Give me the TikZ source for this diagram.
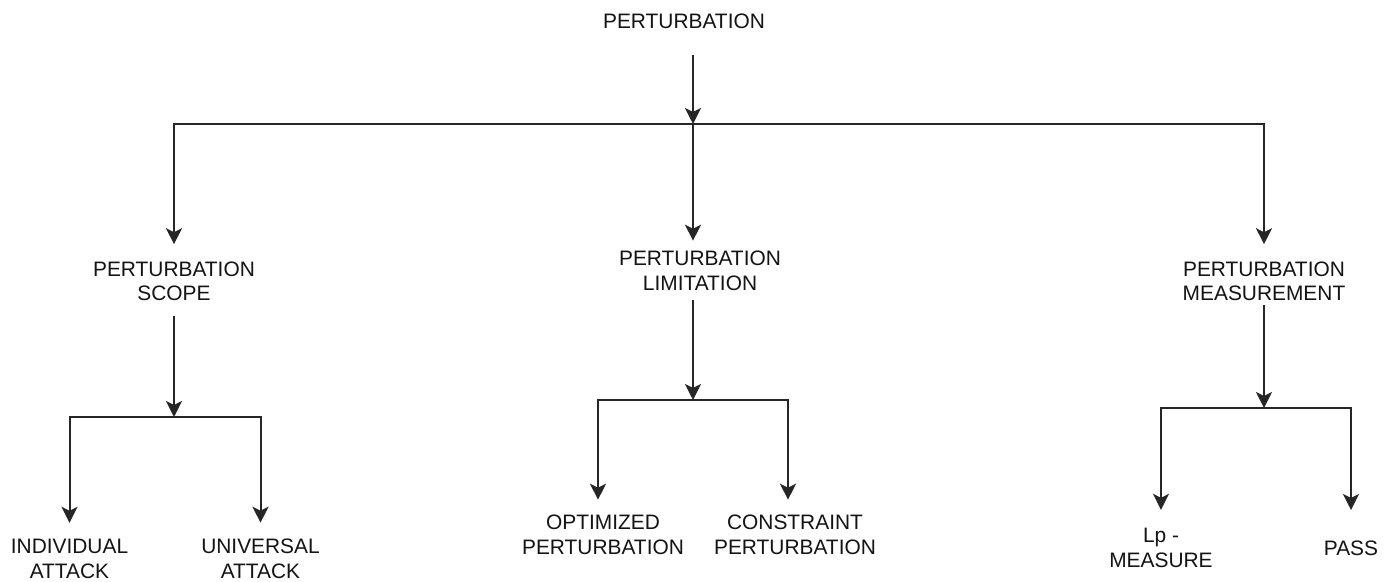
\documentclass[tikz,border=0pt]{standalone}
\usepackage{fontspec}
\setmainfont{Liberation Sans}
\usetikzlibrary{arrows.meta}
\begin{document}
\begin{tikzpicture}[x=0.5pt,y=-0.5pt,
  lbl/.style={inner sep=0pt, outer sep=0pt, align=center, text=black!92,
    font=\fontsize{10.45}{12.3}\selectfont},
  link/.style={line width=1pt, draw=black!85},
  arr/.style={link, -{Stealth[length=8pt,width=8pt,inset=2pt]}}]
% canvas
\fill[white] (0,0) rectangle (1393,582);
\useasboundingbox (0,0) rectangle (1393,582);

% labels
\node[lbl] (top)   at (684,21)    {PERTURBATION};
\node[lbl] (scope) at (174,281.5) {PERTURBATION\\SCOPE};
\node[lbl] (limit) at (700,271)   {PERTURBATION\\LIMITATION};
\node[lbl] (meas)  at (1264,281.5){PERTURBATION\\MEASUREMENT};
\node[lbl] (ind)   at (69.5,559)  {INDIVIDUAL\\ATTACK};
\node[lbl] (uni)   at (260.5,559) {UNIVERSAL\\ATTACK};
\node[lbl] (opt)   at (603,535)   {OPTIMIZED\\PERTURBATION};
\node[lbl] (con)   at (795,535)   {CONSTRAINT\\PERTURBATION};
\node[lbl] (lp)    at (1161,548)  {Lp -\\MEASURE};
\node[lbl] (pass)  at (1351,548)  {PASS};

% junctions
\coordinate (j0)  at (693,124);
\coordinate (j1)  at (174,417);
\coordinate (j2)  at (693,400);
\coordinate (c21) at (598,400);
\coordinate (c22) at (788,400);
\coordinate (j3)  at (1264,408);

% first level
\draw[arr, shorten <=13.3pt] (top.south -| j0) -- (j0);
\draw[arr, shorten >=8.8pt] (j0) -| (scope.north);
\draw[arr, shorten >=8.8pt] (j0) -| (meas.north);
\draw[arr, shorten >=5.3pt] (j0) -- (j0 |- limit.north);

% scope branch
\draw[arr, shorten <=7.3pt] (scope.south) -- (j1);
\draw[arr, shorten >=8.3pt] (j1) -| (ind.north);
\draw[arr, shorten >=8.3pt] (j1) -| (uni.north);

% limitation branch
\draw[arr, shorten <=4.8pt] (limit.south -| j2) -- (j2);
\draw[arr, shorten >=7.8pt] (j2) -- (c21) -- (c21 |- opt.north);
\draw[arr, shorten >=7.8pt] (j2) -- (c22) -- (c22 |- con.north);

% measurement branch
\draw[arr, shorten <=1.8pt] (meas.south) -- (j3);
\draw[arr, shorten >=9.3pt] (j3) -| (lp.north);
\draw[arr, shorten >=15.3pt] (j3) -| (pass.north);
\end{tikzpicture}
\end{document}
